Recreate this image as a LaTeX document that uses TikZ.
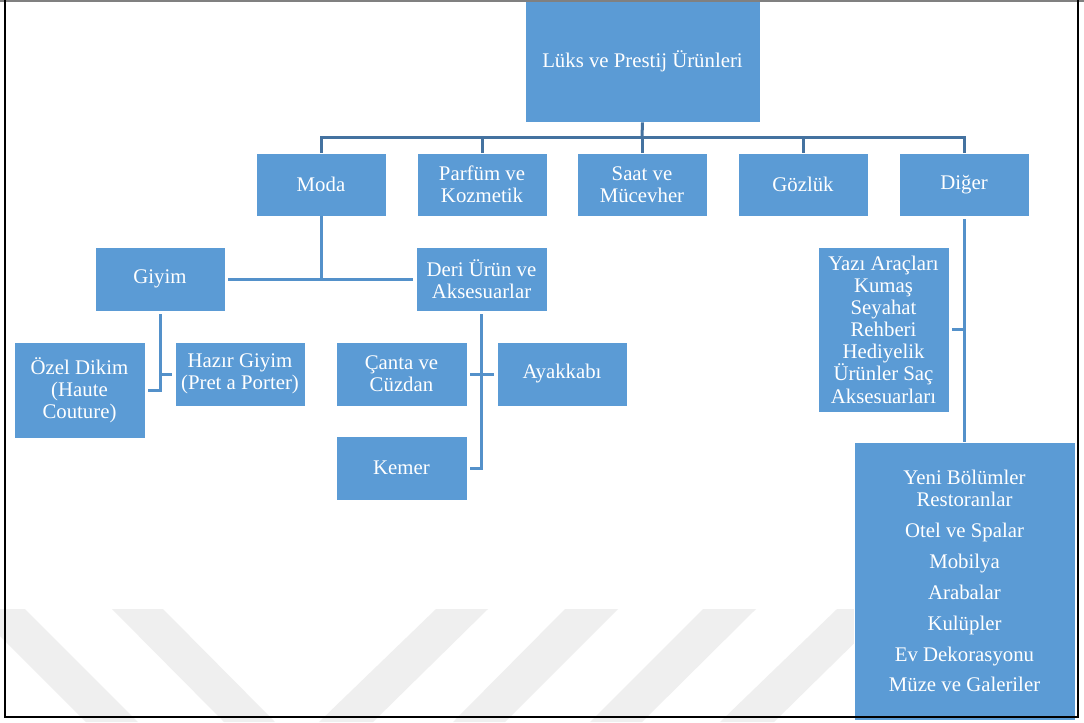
\documentclass[tikz,border=0pt]{standalone}
\usepackage{fontspec}
\setmainfont{Liberation Serif}
\definecolor{boxblue}{RGB}{91,155,213}
\definecolor{linkblue}{RGB}{84,145,202}
\definecolor{busblue}{RGB}{68,114,160}
\definecolor{wm}{RGB}{239,239,239}
\tikzset{
  box/.style={fill=boxblue, draw=white, line width=0.6pt, text=white, align=center,
    inner sep=0pt, font=\fontsize{15.6pt}{16.6pt}\selectfont},
  bus/.style={draw=busblue, line width=2.25pt},
  link/.style={draw=linkblue, line width=2.25pt},
  stripe/.style={fill=wm, draw=none},
}
\begin{document}
\begin{tikzpicture}[x=0.75pt, y=-0.75pt]
\useasboundingbox (0,0) rectangle (1084,722);
\clip (0,0) rectangle (1084,722);
\fill[white] (0,0) rectangle (1084,722);
% watermark stripes
\fill[stripe] (-27,609) -- (25,609) -- (138,722) -- (86,722) -- cycle;
\fill[stripe] (112,609) -- (163,609) -- (275,722) -- (224,722) -- cycle;
\fill[stripe] (436,609) -- (488,609) -- (373,722) -- (319,722) -- cycle;
\fill[stripe] (565,609) -- (618,609) -- (505,722) -- (453,722) -- cycle;
\fill[stripe] (703,609) -- (756,609) -- (642,722) -- (590,722) -- cycle;
\fill[stripe] (837,609) -- (889,609) -- (774,722) -- (720,722) -- cycle;

% boxes
\node[box, minimum width=176.25pt, minimum height=91.5pt] (root) at (642.5,61) {Lüks ve Prestij Ürünleri};
\node[box, minimum width=97.5pt, minimum height=47.25pt] (moda) at (321,184.5) {Moda};
\node[box, minimum width=97.5pt, minimum height=47.25pt] (parfum) at (482,184.5) {Parfüm ve\\Kozmetik};
\node[box, minimum width=97.5pt, minimum height=47.25pt] (saat) at (642,184.5) {Saat ve\\Mücevher};
\node[box, minimum width=97.5pt, minimum height=47.25pt] (gozluk) at (803,184.5) {Gözlük};
\node[box, minimum width=97.5pt, minimum height=47.25pt] (diger) at (964,184.5) {Diğer};
\node[box, minimum width=97.5pt, minimum height=48pt] (giyim) at (160,279) {Giyim};
\node[box, minimum width=98.25pt, minimum height=48pt] (deri) at (481.5,279) {Deri Ürün ve\\Aksesuarlar};
\node[box, minimum width=98.25pt, minimum height=72pt] (ozel) at (79.5,390) {Özel Dikim\\(Haute\\Couture)};
\node[box, minimum width=97.5pt, minimum height=48pt] (hazir) at (240,374) {Hazır Giyim\\(Pret a Porter)};
\node[box, minimum width=98.25pt, minimum height=48pt] (canta) at (401.5,374) {Çanta ve\\Cüzdan};
\node[box, minimum width=97.5pt, minimum height=48pt] (ayak) at (562,374) {Ayakkabı};
\node[box, minimum width=98.25pt, minimum height=48pt] (kemer) at (401.5,468) {Kemer};
\node[box, minimum width=98.25pt, minimum height=123.75pt] (yazi) at (883.5,329.5) {Yazı Araçları\\Kumaş\\Seyahat\\Rehberi\\Hediyelik\\Ürünler Saç\\Aksesuarları};
\node[box, minimum width=165.75pt, minimum height=208.5pt] (big) at (964.5,581) {Yeni Bölümler\\Restoranlar\\[6.6pt]Otel ve Spalar\\[6.6pt]Mobilya\\[6.6pt]Arabalar\\[6.6pt]Kulüpler\\[6.6pt]Ev Dekorasyonu\\[6.6pt]Müze ve Galeriler};

% connectors
\coordinate (bus) at (642,137);
\coordinate (modaj) at (321,279);
\draw[bus] (root.south) -- (bus);
\draw[bus] (moda.north) |- (bus) -| (diger.north);
\draw[bus] (parfum.north) -- (parfum.north |- bus);
\draw[bus] (saat.north) -- (saat.north |- bus);
\draw[bus] (gozluk.north) -- (gozluk.north |- bus);
\draw[link] (moda.south) -- (modaj);
\draw[link, shorten <=2pt, shorten >=2pt] (giyim.east) -- (deri.west);
\draw[link, shorten <=2pt, shorten >=2pt] (giyim.south) |- (ozel.east);
\draw[link, shorten >=2pt] (giyim.south |- hazir.west) -- (hazir.west);
\draw[link, shorten <=2pt, shorten >=2pt] (deri.south) |- (kemer.east);
\draw[link, shorten <=2pt, shorten >=2pt] (canta.east) -- (ayak.west);
\draw[link, shorten <=2pt] (diger.south) -- (diger.south |- big.north);
\draw[link, shorten <=2pt] (yazi.east) -- (yazi.east -| diger.south);

% frame
\draw[gray, line width=1.2pt] (0,1) -- (1084,1);
\draw[black, line width=1.6pt] (5,0) -- (5,717) -- (1078,717) -- (1078,0);
\end{tikzpicture}
\end{document}
